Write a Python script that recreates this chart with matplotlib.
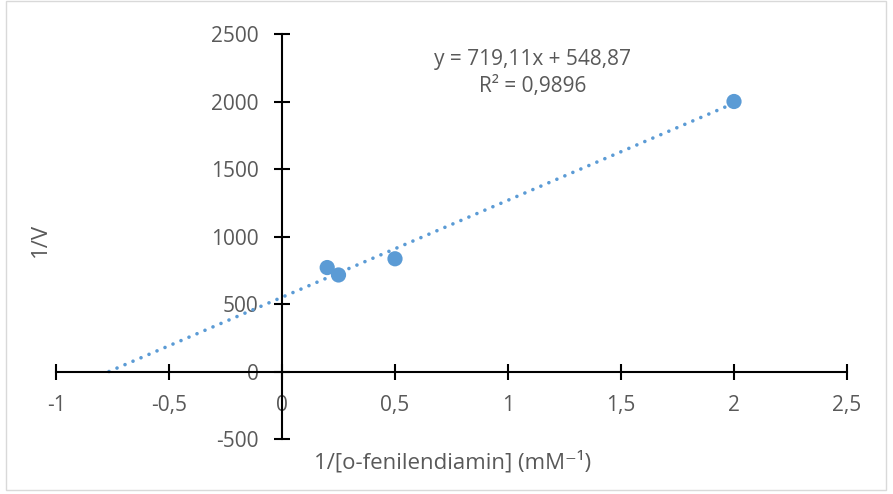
import numpy as np
import matplotlib
matplotlib.use("Agg")
import matplotlib.pyplot as plt
from matplotlib.patches import Rectangle

# data
x_vals = [0.2, 0.25, 0.5, 2.0]
y_vals = [770, 715, 835, 2000]
x_ticks = [-1, -0.5, 0, 0.5, 1, 1.5, 2, 2.5]
y_ticks = [-500, 0, 500, 1000, 1500, 2000, 2500]
eq_text = "y = 719,11x + 548,87\nR² = 0,9896"

BLUE = "#5B9BD5"
GREY = "#595959"

plt.rcParams["font.family"] = ["Open Sans", "DejaVu Sans"]

fig = plt.figure(figsize=(8.93, 4.94), dpi=100)
ax = fig.add_axes([56 / 893, 1 - 439 / 494, (847 - 56) / 893, (439 - 34) / 494])

# trendline (linear fit), drawn back to the x intercept
slope, inter = np.polyfit(x_vals, y_vals, 1)
x0 = -inter / slope
xl = np.array([x0, max(x_vals)])
ax.plot(xl, slope * xl + inter, color=BLUE, linestyle=(0, (0.01, 2.4)), linewidth=2.6,
        dash_capstyle="round", zorder=2)
ax.scatter(x_vals, y_vals, s=120, color=BLUE, zorder=3, edgecolor="none")

ax.set_xlim(-1, 2.5)
ax.set_ylim(-500, 2500)
ax.set_xticks(x_ticks)
ax.set_yticks(y_ticks)
ax.set_xticklabels([f"{t:g}".replace(".", ",") for t in x_ticks])
ax.set_yticklabels([str(t) for t in y_ticks])

ax.spines["left"].set_position(("data", 0))
ax.spines["bottom"].set_position(("data", 0))
ax.spines["right"].set_visible(False)
ax.spines["top"].set_visible(False)
for s in ("left", "bottom"):
    ax.spines[s].set_linewidth(1.5)
    ax.spines[s].set_color("black")
ax.tick_params(direction="inout", length=12, width=1.5, color="black",
               labelcolor=GREY, labelsize=15)
ax.tick_params(axis="x", pad=11)
ax.tick_params(axis="y", pad=11)

ax.text(1.11, 2212, eq_text, ha="center", va="center", fontsize=15, color=GREY,
        linespacing=1.35)

fig.text(40 / 893, 1 - 240 / 494, "1/V", rotation=90, ha="center", va="center",
         fontsize=16, color=GREY)
fig.text(453 / 893, 1 - 462 / 494, "1/[o-fenilendiamin] (mM⁻¹)", ha="center",
         va="center", fontsize=16, color=GREY)

fig.patches.append(Rectangle((6 / 893, 1 - 490 / 494), 880 / 893, 489 / 494,
                             transform=fig.transFigure, fill=False,
                             edgecolor="#D9D9D9", linewidth=1))

fig.savefig("out.png", dpi=100, facecolor="white")
